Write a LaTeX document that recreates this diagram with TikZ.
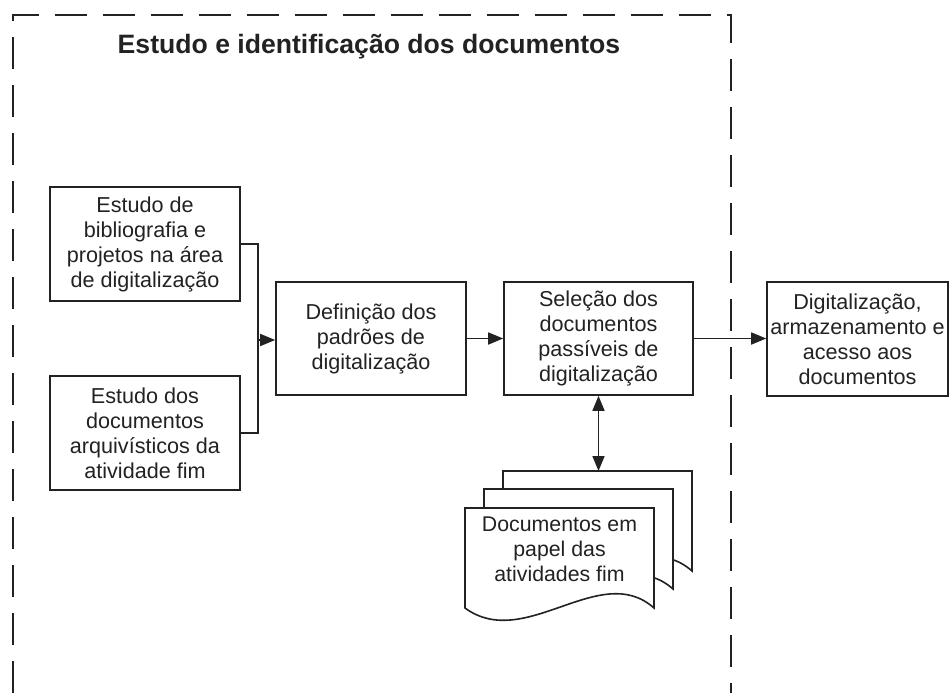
\documentclass[tikz,border=0pt]{standalone}
\usepackage{fontspec}
\setmainfont{Liberation Sans}
\usetikzlibrary{arrows.meta}
\definecolor{ink}{HTML}{222222}
\begin{document}
\begin{tikzpicture}[x=1pt,y=-1pt,
  box/.style={draw=ink, line width=1.6pt, fill=white, inner sep=0pt, align=center,
    font=\fontsize{21.6}{25}\selectfont, text=ink},
  page/.style={draw=ink, line width=1.6pt, fill=white},
  conn/.style={draw=ink, line width=1.6pt},
  tip/.style={-{Triangle[length=15pt,width=12pt]}},
  frame/.style={draw=ink, line width=2pt, dash pattern=on 32pt off 16pt}]
\useasboundingbox (0,0) rectangle (949,693);
% frame
\draw[frame] (12.7,693) -- (12.7,15) -- (731,15) -- (731,693);
\node[font=\bfseries\fontsize{26.6}{30}\selectfont, text=ink] (title) at (369,47) {Estudo e identificação dos documentos};
% boxes
\node[box, minimum width=190pt, minimum height=114pt] (A) at (145,244) {Estudo de\\bibliografia e\\projetos na área\\de digitalização};
\node[box, minimum width=190pt, minimum height=114pt] (B) at (145,433) {Estudo dos\\documentos\\arquivísticos da\\atividade fim};
\node[box, minimum width=190pt, minimum height=113pt] (C) at (371,338.5) {Definição dos\\padrões de\\digitalização};
\node[box, minimum width=189pt, minimum height=113pt] (D) at (598.5,338.5) {Seleção dos\\documentos\\passíveis de\\digitalização};
\node[box, minimum width=181pt, minimum height=114pt] (E) at (857.5,339) {Digitalização,\\armazenamento e\\acesso aos\\documentos};
% document stack
\foreach \dx/\dy in {38/-37,19/-19,0/0}{
  \draw[page] (465+\dx,508+\dy) -- (654+\dx,508+\dy) -- (654+\dx,608+\dy)
    .. controls (600+\dx,560+\dy) and (525+\dx,652+\dy) .. (465+\dx,608+\dy) -- cycle;
}
\coordinate (stacktop) at (598.5,471);
\node[font=\fontsize{21.3}{25}\selectfont, text=ink, align=center] (doc) at (559.5,549) {Documentos em\\papel das\\atividades fim};
% connectors
\coordinate (j) at (258,340);
\draw[conn] (A.east) -| (j);
\draw[conn] (B.east) -| (j);
\draw[conn, tip] (j) -- (C.west |- j);
\draw[conn, tip] (C.east) -- (D.west);
\draw[conn, tip] (D.east) -- (E.west |- D.east);
\draw[conn, {Triangle[length=15pt,width=12pt]}-{Triangle[length=15pt,width=12pt]}] (D.south) -- (stacktop);
\end{tikzpicture}
\end{document}
